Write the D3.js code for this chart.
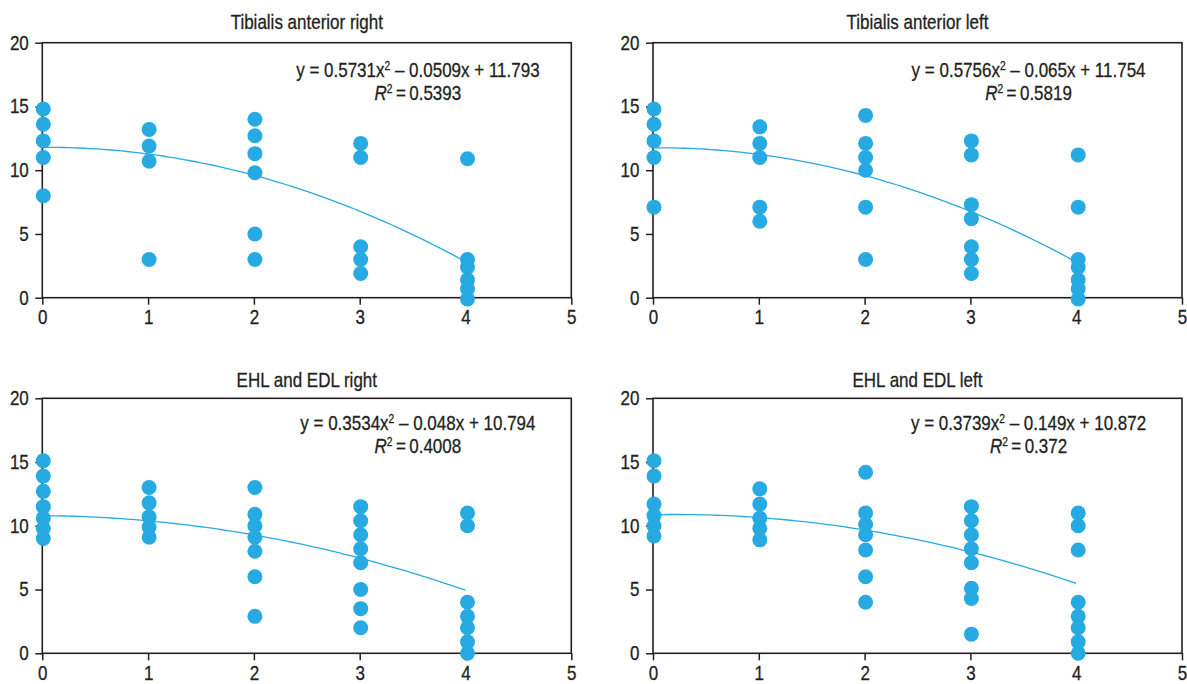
<!DOCTYPE html>
<html>
<head>
<meta charset="utf-8">
<script src="https://cdn.jsdelivr.net/npm/d3@7"></script>
<style>
  body { margin: 0; background: #fff; }
  svg text { font-family: "Liberation Sans", Arial, sans-serif; fill: #231f20; stroke: #231f20; stroke-width: 0.3px; }
</style>
</head>
<body>
<div id="chart"></div>
<script>
// grade on x axis (0..4), one array of values per grade
var grades = [0, 1, 2, 3, 4];

var taRight = [
  [14.8, 13.6, 12.3, 11, 8],
  [13.2, 11.9, 10.7, 3],
  [14, 12.7, 11.3, 9.8, 5, 3],
  [12.1, 11, 4, 3, 1.9],
  [10.9, 3, 2.4, 1.4, 0.7, -0.1]
];
var taLeft = [
  [14.8, 13.6, 12.3, 11, 7.1],
  [13.4, 12.1, 11, 7.1, 6],
  [14.3, 12.1, 11, 10, 7.1, 3],
  [12.3, 11.2, 7.3, 6.2, 4, 3, 1.9],
  [11.2, 7.1, 3, 2.4, 1.4, 0.7, -0.1]
];
var ehlRight = [
  [15.1, 13.9, 12.7, 11.5, 10.6, 9.8, 9],
  [13, 11.8, 10.7, 9.9, 9.1],
  [13, 10.9, 10, 9.1, 8, 6, 2.9],
  [11.5, 10.4, 9.3, 8.2, 7.1, 5, 3.5, 2],
  [11, 10, 4, 2.9, 2, 0.9, 0]
];
var ehlLeft = [
  [15.1, 13.9, 11.7, 10.8, 10, 9.2],
  [12.9, 11.7, 10.6, 9.8, 8.9],
  [14.2, 11, 10.1, 9.3, 8.1, 6, 4],
  [11.5, 10.4, 9.3, 8.2, 7.1, 5.1, 4.3, 1.5],
  [11, 10, 8.1, 4, 2.9, 2, 0.9, 0]
];

var titles = ["Tibialis anterior right", "Tibialis anterior left", "EHL and EDL right", "EHL and EDL left"];
// quadratic trend coefficients as drawn [a, b, c] : y = a*x^2 + b*x + c
var fits = [
  [-0.5731, 0.0509, 11.793],
  [-0.5756, 0.065, 11.754],
  [-0.3534, -0.048, 10.794],
  [-0.3739, 0.149, 10.872]
];
var eqCoef = [
  ["0.5731", "0.0509", "11.793"],
  ["0.5756", "0.065", "11.754"],
  ["0.3534", "0.048", "10.794"],
  ["0.3739", "0.149", "10.872"]
];
var r2Labels = ["0.5393", "0.5819", "0.4008", "0.372"];
var xTicks = [0, 1, 2, 3, 4, 5];
var yTicks = [0, 5, 10, 15, 20];

var datasets = [taRight, taLeft, ehlRight, ehlLeft];

var width = 1187, height = 684;
var blue = "#27aae1";
var ink = "#231f20";
var squeeze = 0.85; // condensed look
var pw = 529, ph = 255;
var origins = [[42.3, 42.7], [653, 42.7], [42.3, 398.3], [653, 398.3]];

var svg = d3.select("#chart").append("svg")
  .attr("width", width)
  .attr("height", height);

var x = d3.scaleLinear().domain([0, 5]).range([0, pw]);
var y = d3.scaleLinear().domain([0, 20]).range([ph, 0]);

// text squeezed horizontally around its anchor point
function label(parent, tx, ty) {
  return parent.append("g")
    .attr("transform", "translate(" + tx + "," + ty + ") scale(" + squeeze + ",1)")
    .append("text")
    .attr("text-anchor", "middle")
    .style("font-size", "20px");
}

datasets.forEach(function (data, i) {
  var g = svg.append("g")
    .attr("transform", "translate(" + origins[i][0] + "," + origins[i][1] + ")");
  var row = i < 2 ? 0 : 1;

  // axes
  var ax = g.append("g")
    .attr("transform", "translate(0," + ph + ")")
    .call(d3.axisBottom(x).tickValues(xTicks).tickFormat(d3.format("d"))
      .tickSize(7).tickSizeOuter(0).tickPadding(6));
  var ay = g.append("g")
    .call(d3.axisLeft(y).tickValues(yTicks).tickFormat(d3.format("d"))
      .tickSize(7).tickSizeOuter(0).tickPadding(6));
  [ax, ay].forEach(function (a) {
    a.selectAll("path").remove();
    a.selectAll("line").attr("stroke", ink).attr("stroke-width", 1.5);
    a.selectAll("text").style("font-size", "20px").attr("fill", ink);
  });
  ax.selectAll("text").attr("transform", "scale(" + squeeze + ",1)").attr("y", 12.5);
  ay.selectAll("text").attr("transform", "translate(-13.5,0) scale(" + squeeze + ",1)").attr("x", 0);

  // frame
  g.append("rect")
    .attr("width", pw).attr("height", ph)
    .attr("fill", "none")
    .attr("stroke", ink)
    .attr("stroke-width", 1.6);

  // points
  var pts = [];
  data.forEach(function (vals, k) {
    vals.forEach(function (v) { pts.push({ gx: grades[k], v: v }); });
  });
  g.append("g").selectAll("circle")
    .data(pts)
    .enter()
    .append("circle")
    .attr("cx", function (d) { return x(d.gx) + (d.gx === 4 ? 2 : 1); })
    .attr("cy", function (d) { return y(d.v); })
    .attr("r", 7.5)
    .attr("fill", blue);

  // trend line
  var f = fits[i];
  var curve = d3.range(0, 4.0001, 0.05).map(function (t) {
    return [t, f[0] * t * t + f[1] * t + f[2]];
  });
  g.append("path")
    .datum(curve)
    .attr("fill", "none")
    .attr("stroke", blue)
    .attr("stroke-width", 1.3)
    .attr("d", d3.line()
      .x(function (d) { return x(d[0]); })
      .y(function (d) { return y(d[1]); }));

  // title
  label(g, pw / 2, row === 0 ? -13.5 : -11.5).text(titles[i]);

  // equation
  var ex = pw * 0.71;
  var e1 = label(g, ex, row === 0 ? 34.5 : 31.5);
  e1.append("tspan").text("y = " + eqCoef[i][0] + "x");
  e1.append("tspan").attr("dy", -7).style("font-size", "12px").text("2");
  e1.append("tspan").attr("dy", 7).text(" \u2013 " + eqCoef[i][1] + "x + " + eqCoef[i][2]);

  var e2 = label(g, ex, row === 0 ? 57.5 : 54.5);
  e2.append("tspan").style("font-style", "italic").text("R");
  e2.append("tspan").attr("dy", -7).style("font-size", "12px").text("2");
  e2.append("tspan").attr("dy", 7).text("\u2009=\u2009" + r2Labels[i]);
});
</script>
</body>
</html>
